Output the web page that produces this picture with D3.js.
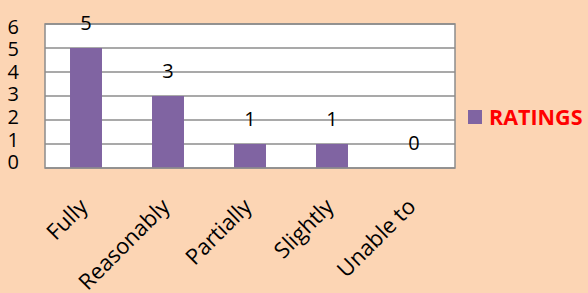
<!DOCTYPE html>
<html>
<head>
<meta charset="utf-8">
<script src="https://cdn.jsdelivr.net/npm/d3@7"></script>
<style>
  body { margin: 0; background: #fcd5b4; }
  svg { display: block; }
</style>
</head>
<body>
<div id="chart"></div>
<script>
const categories = ["Fully", "Reasonably", "Partially", "Slightly", "Unable to"];
const ratings = [5, 3, 1, 1, 0];
const yTicks = [0, 1, 2, 3, 4, 5, 6];
const seriesName = "RATINGS";

const width = 588, height = 293;
const plot = {left: 45, right: 455, top: 24, bottom: 168};

const svg = d3.select("#chart").append("svg")
    .attr("width", width)
    .attr("height", height);

svg.append("rect")
    .attr("width", width)
    .attr("height", height)
    .attr("fill", "#fcd5b4");

const x = d3.scaleBand()
    .domain(categories)
    .range([plot.left, plot.right])
    .paddingInner(0.61)
    .paddingOuter(0.305);

const y = d3.scaleLinear()
    .domain([0, 6])
    .range([plot.bottom, plot.top]);

// excel puts the axis numbers a bit squeezed compared to the gridlines
const yLab = d3.scaleLinear()
    .domain([0, 6])
    .range([162, 26.5]);

// plot area
svg.append("rect")
    .attr("x", plot.left)
    .attr("y", plot.top)
    .attr("width", plot.right - plot.left)
    .attr("height", plot.bottom - plot.top)
    .attr("fill", "#fff");

// gridlines
svg.append("g")
    .selectAll("line")
    .data(yTicks)
    .enter().append("line")
    .attr("x1", plot.left)
    .attr("x2", plot.right)
    .attr("y1", d => y(d))
    .attr("y2", d => y(d))
    .attr("stroke", "#8c8c8c")
    .attr("stroke-width", 1.5);

// bars
svg.append("g")
    .selectAll("rect")
    .data(ratings)
    .enter().append("rect")
    .attr("x", (d, i) => x(categories[i]))
    .attr("y", d => y(d))
    .attr("width", x.bandwidth())
    .attr("height", d => y(0) - y(d))
    .attr("fill", "#8064a2");

// plot border
svg.append("rect")
    .attr("x", plot.left)
    .attr("y", plot.top)
    .attr("width", plot.right - plot.left)
    .attr("height", plot.bottom - plot.top)
    .attr("fill", "none")
    .attr("stroke", "#8c8c8c")
    .attr("stroke-width", 1.5);

// value labels
svg.append("g")
    .attr("font-family", "'Open Sans', sans-serif")
    .attr("font-size", 20)
    .attr("text-anchor", "middle")
    .selectAll("text")
    .data(ratings)
    .enter().append("text")
    .attr("x", (d, i) => x(categories[i]) + x.bandwidth() / 2)
    .attr("y", d => y(d) - 18)
    .text(d => d);

// y axis labels
svg.append("g")
    .attr("font-family", "'Open Sans', sans-serif")
    .attr("font-size", 20)
    .attr("text-anchor", "end")
    .selectAll("text")
    .data(yTicks)
    .enter().append("text")
    .attr("x", 19)
    .attr("y", d => yLab(d))
    .attr("dy", "0.36em")
    .text(d => d);

// x axis labels, rotated
svg.append("g")
    .attr("font-family", "'Open Sans', sans-serif")
    .attr("font-size", 22)
    .attr("text-anchor", "end")
    .selectAll("text")
    .data(categories)
    .enter().append("text")
    .attr("transform", d => "translate(" + (x(d) + x.bandwidth() / 2 + 3) + ",208) rotate(-45)")
    .text(d => d);

// legend
const legend = svg.append("g");
legend.append("rect")
    .attr("x", 468)
    .attr("y", 110)
    .attr("width", 14)
    .attr("height", 14)
    .attr("fill", "#8064a2");
legend.append("text")
    .attr("x", 489)
    .attr("y", 125)
    .attr("font-family", "'Open Sans', sans-serif")
    .attr("font-size", 21.5)
    .attr("font-weight", "bold")
    .attr("fill", "#ff0000")
    .text(seriesName);
</script>
</body>
</html>
